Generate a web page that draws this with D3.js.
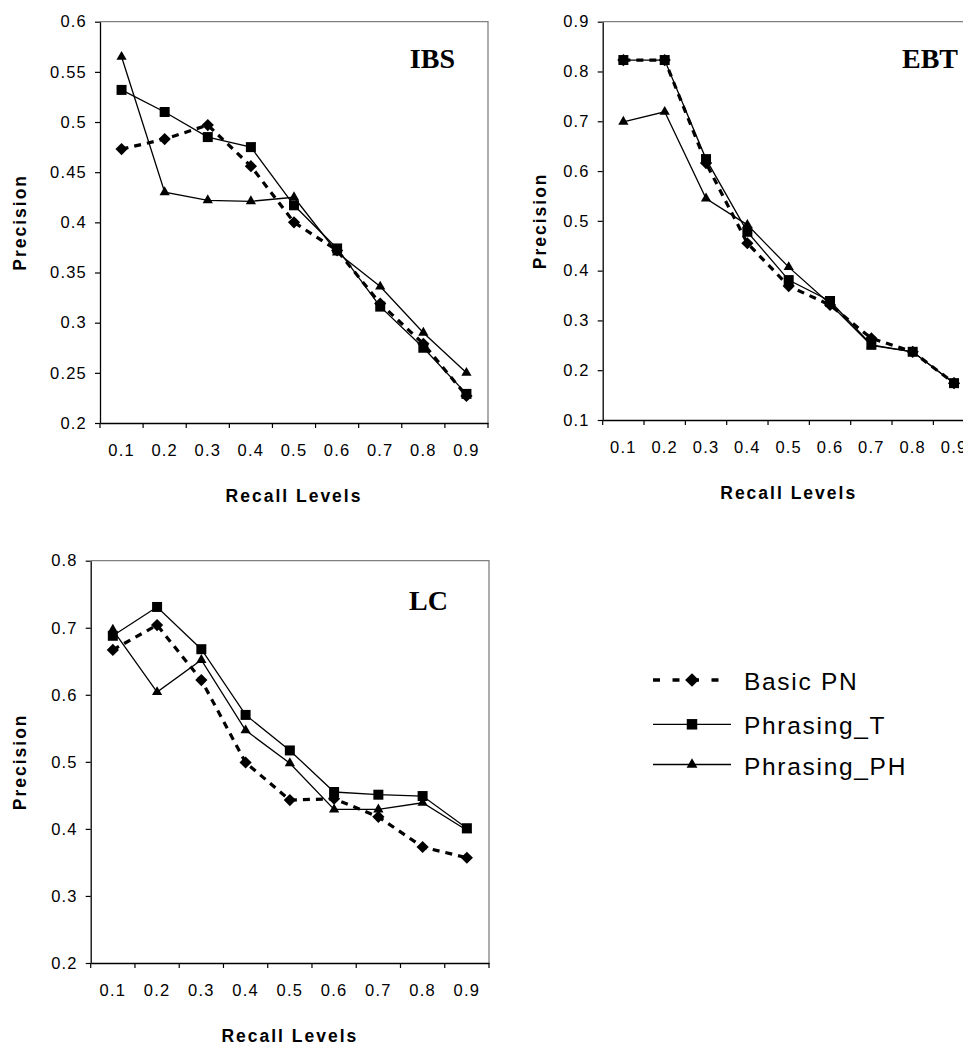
<!doctype html>
<html lang="en">
<head>
    <meta charset="utf-8">
    <script src="https://d3js.org/d3.v7.min.js"></script>
    <style type="text/css">
        body {
            padding: 0;
            margin: 0;
            background: #fff;
        }

        .axis-title {
            font-family: "Liberation Sans", Arial, sans-serif;
            font-weight: bold;
            font-size: 17.5px;
            letter-spacing: 2px;
        }

        .panel-name {
            font-family: "Liberation Serif", "Times New Roman", serif;
            font-weight: bold;
            font-size: 28px;
        }

        .legend text {
            font-family: "Liberation Sans", Arial, sans-serif;
            font-size: 24.5px;
            letter-spacing: 1.7px;
        }
    </style>
</head>
<body>
<script type="text/javascript">

    // ---- data ----
    var recallLevels = ["0.1", "0.2", "0.3", "0.4", "0.5", "0.6", "0.7", "0.8", "0.9"];
    var seriesNames = ["Basic PN", "Phrasing_T", "Phrasing_PH"];

    var ibsBasicPN    = [0.473, 0.483, 0.497, 0.456, 0.400, 0.372, 0.319, 0.279, 0.227];
    var ibsPhrasingT  = [0.532, 0.510, 0.485, 0.475, 0.417, 0.374, 0.316, 0.275, 0.229];
    var ibsPhrasingPH = [0.565, 0.430, 0.422, 0.421, 0.425, 0.370, 0.336, 0.290, 0.250];

    var ebtBasicPN    = [0.823, 0.823, 0.616, 0.455, 0.369, 0.331, 0.264, 0.237, 0.174];
    var ebtPhrasingT  = [0.823, 0.823, 0.624, 0.478, 0.381, 0.339, 0.251, 0.237, 0.174];
    var ebtPhrasingPH = [0.699, 0.719, 0.545, 0.492, 0.407, 0.333, 0.250, 0.237, 0.174];

    var lcBasicPN     = [0.667, 0.704, 0.622, 0.499, 0.443, 0.445, 0.418, 0.373, 0.357];
    var lcPhrasingT   = [0.688, 0.731, 0.668, 0.570, 0.517, 0.455, 0.451, 0.449, 0.401];
    var lcPhrasingPH  = [0.697, 0.604, 0.652, 0.547, 0.498, 0.429, 0.429, 0.439, 0.398];

    var ibsTicks = [0.2, 0.25, 0.3, 0.35, 0.4, 0.45, 0.5, 0.55, 0.6];
    var ebtTicks = [0.1, 0.2, 0.3, 0.4, 0.5, 0.6, 0.7, 0.8, 0.9];
    var lcTicks  = [0.2, 0.3, 0.4, 0.5, 0.6, 0.7, 0.8];

    // ---- layout ----
    var width = 963, height = 1045;

    var svg = d3.select("body").append("svg")
        .attr("width", width)
        .attr("height", height);

    var panels = [
        { name: "IBS", left: 100, top: 21.7, w: 388, h: 401.3, ticks: ibsTicks,
          series: [ibsBasicPN, ibsPhrasingT, ibsPhrasingPH], nameX: -33, nameY: 46.6, ytitleX: -74 },
        { name: "EBT", left: 602.7, top: 21.7, w: 372, h: 398.3, ticks: ebtTicks,
          series: [ebtBasicPN, ebtPhrasingT, ebtPhrasingPH], nameX: -16.7, nameY: 46, ytitleX: -57 },
        { name: "LC", left: 90.7, top: 560.7, w: 398.3, h: 402.3, ticks: lcTicks,
          series: [lcBasicPN, lcPhrasingT, lcPhrasingPH], nameX: -41, nameY: 49.3, ytitleX: -64.5 }
    ];

    // marker symbols per series
    var diamond = d3.symbol().type(d3.symbolDiamond2).size(95);
    var square = d3.symbol().type(d3.symbolSquare).size(100);
    var triangle = d3.symbol().type(d3.symbolTriangle2).size(75);
    var markers = [diamond, square, triangle];

    function lineStyle(sel, i) {
        if (i == 0) {
            sel.attr("stroke-width", 3.2).attr("stroke-dasharray", "7,6");
        } else {
            sel.attr("stroke-width", 1.3);
        }
    }

    function tickFont(sel) {
        sel.attr("font-family", "'Liberation Sans', Arial, sans-serif")
            .attr("font-size", 16.5)
            .style("letter-spacing", "1.2px")
            .attr("fill", "#000");
    }

    panels.forEach(function (p) {
        var g = svg.append("g").attr("transform", "translate(" + p.left + "," + p.top + ")");

        var x = d3.scaleBand().domain(recallLevels).range([0, p.w]).padding(0);
        var y = d3.scaleLinear().domain([p.ticks[0], p.ticks[p.ticks.length - 1]]).range([p.h, 0]);

        // plot-area frame (top and right)
        g.append("path")
            .attr("d", "M0,0H" + p.w + "V" + p.h)
            .attr("fill", "none")
            .attr("stroke", "#808080")
            .attr("stroke-width", 1.3);

        // y axis
        var yAxis = g.append("g")
            .call(d3.axisLeft(y).tickValues(p.ticks).tickFormat(d3.format("~g"))
                .tickSize(5).tickPadding(8).tickSizeOuter(0));
        yAxis.select(".domain").attr("stroke", "#000").attr("stroke-width", 1.3);
        yAxis.selectAll(".tick line").attr("stroke", "#000").attr("stroke-width", 1.2);
        yAxis.selectAll(".tick text").call(tickFont);

        // x axis: labels at band centres, ticks at band edges
        var xAxis = g.append("g")
            .attr("transform", "translate(0," + p.h + ")")
            .call(d3.axisBottom(x).tickSize(0).tickPadding(0).tickSizeOuter(0));
        xAxis.select(".domain").attr("stroke", "#000").attr("stroke-width", 1.3);
        xAxis.selectAll(".tick text").attr("y", 21).attr("dy", "0.71em").call(tickFont);

        var edges = d3.range(recallLevels.length + 1);
        g.append("g").selectAll("line")
            .data(edges)
            .enter().append("line")
            .attr("x1", function (d) { return d * x.step(); })
            .attr("x2", function (d) { return d * x.step(); })
            .attr("y1", p.h)
            .attr("y2", p.h + 5)
            .attr("stroke", "#000")
            .attr("stroke-width", 1.2);

        // series
        var line = d3.line()
            .x(function (d, i) { return x(recallLevels[i]) + x.bandwidth() / 2; })
            .y(function (d) { return y(d); });

        p.series.forEach(function (values, si) {
            g.append("path")
                .datum(values)
                .attr("d", line)
                .attr("fill", "none")
                .attr("stroke", "#000")
                .call(lineStyle, si);

            g.append("g").selectAll("path")
                .data(values)
                .enter().append("path")
                .attr("d", markers[si])
                .attr("fill", "#000")
                .attr("transform", function (d, i) {
                    return "translate(" + (x(recallLevels[i]) + x.bandwidth() / 2) + "," + y(d) + ")";
                });
        });

        // panel name
        g.append("text")
            .attr("class", "panel-name")
            .attr("x", p.w + p.nameX)
            .attr("y", p.nameY)
            .attr("text-anchor", "end")
            .text(p.name);

        // axis titles
        g.append("text")
            .attr("class", "axis-title")
            .attr("x", p.w / 2)
            .attr("y", p.h + 79)
            .attr("text-anchor", "middle")
            .text("Recall Levels");

        g.append("text")
            .attr("class", "axis-title")
            .attr("transform", "translate(" + p.ytitleX + "," + (p.h / 2) + ") rotate(-90)")
            .attr("text-anchor", "middle")
            .text("Precision");
    });

    // ---- legend ----
    var legend = svg.append("g").attr("class", "legend");
    var legendRows = [680, 724.3, 764.5];

    seriesNames.forEach(function (name, i) {
        var row = legend.append("g").attr("transform", "translate(653," + legendRows[i] + ")");
        var seg = row.append("line")
            .attr("x1", 0).attr("x2", 78)
            .attr("stroke", "#000");
        if (i == 0) {
            seg.attr("stroke-width", 3.6).attr("stroke-dasharray", "7,12.5");
        } else {
            seg.attr("stroke-width", 1.3);
        }
        row.append("path")
            .attr("d", i == 0 ? d3.symbol().type(d3.symbolDiamond2).size(120)() :
                i == 1 ? d3.symbol().type(d3.symbolSquare).size(110)() :
                d3.symbol().type(d3.symbolTriangle2).size(85)())
            .attr("transform", "translate(39,0)")
            .attr("fill", "#000");
        row.append("text")
            .attr("x", 91)
            .attr("y", 10)
            .text(name);
    });

</script>
</body>
</html>
